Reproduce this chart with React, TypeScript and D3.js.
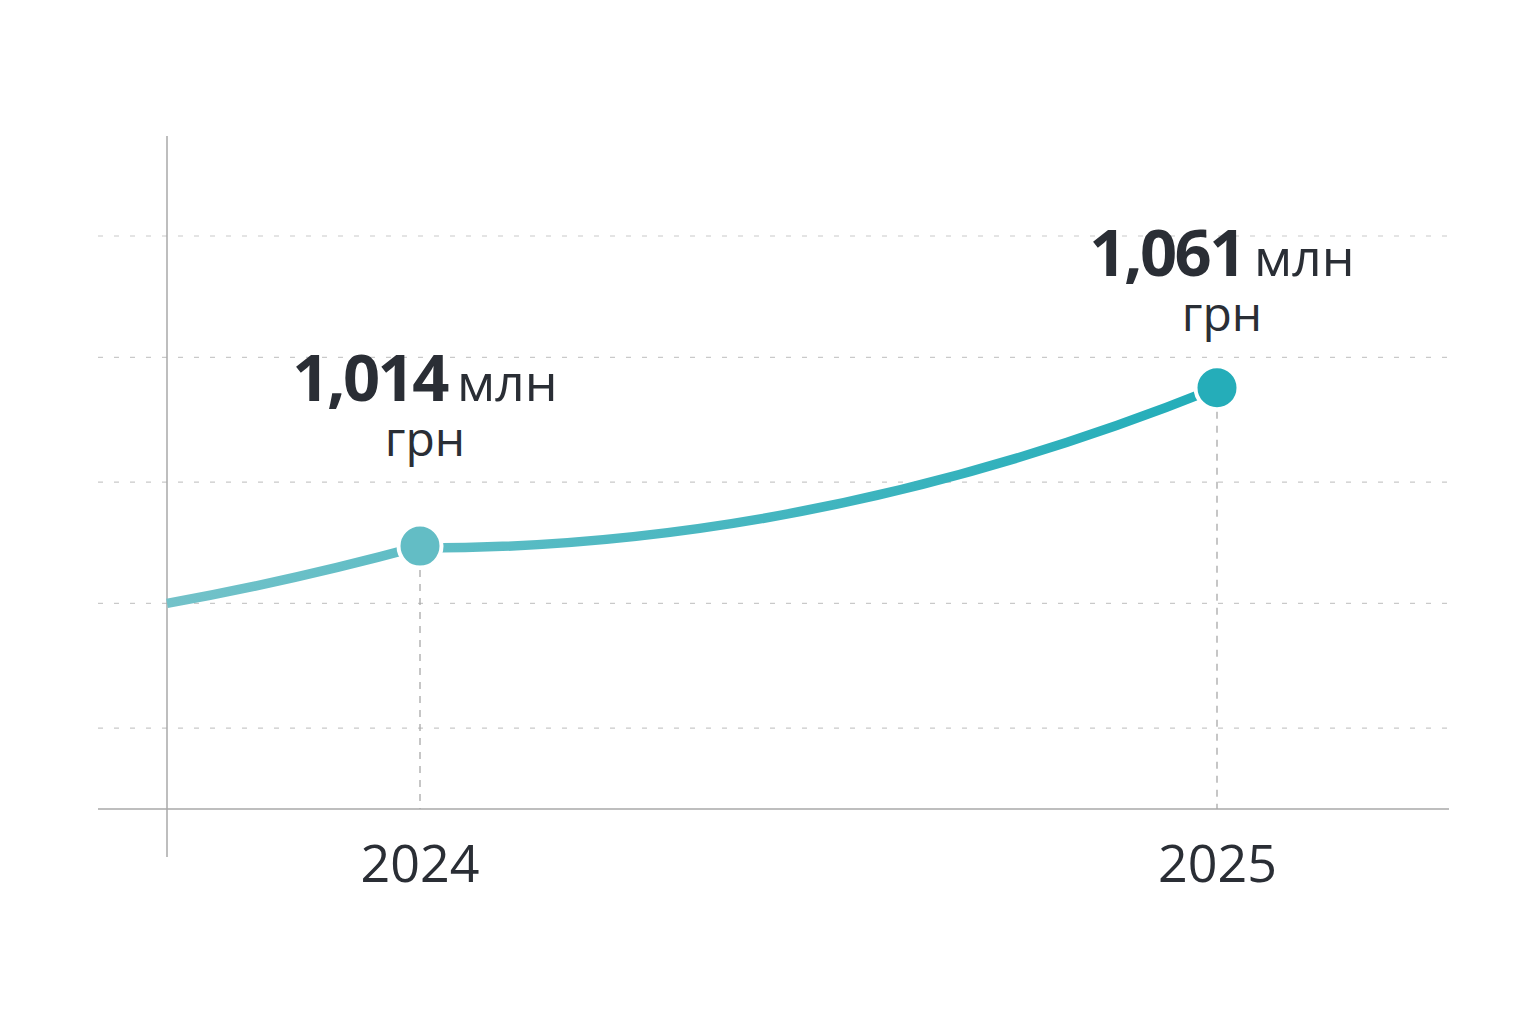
import { useMemo } from "react";
import * as d3 from "d3";

// values
const years = [2024, 2025];
const values = [1014, 1061];
const startValue = 997; // where the line enters at the y axis
const valueLabels = ["1,014", "1,061"];
const unitTop = "млн";
const unitBottom = "грн";
const gridValues = [960, 997, 1033, 1070, 1106];

const W = 1536;
const H = 1024;
const font = "'Open Sans', 'Noto Sans', sans-serif";
const ink = "#2a2e35";

// label lifts above each dot (px)
const labelLift = [145, 112];

export default function App() {
  const x = useMemo(() => d3.scaleLinear().domain([2024, 2025]).range([420, 1217]), []);
  const y = useMemo(() => d3.scaleLinear().domain([936, 1106]).range([809, 236]), []);

  const axisX = 167;
  const gridLeft = 98;
  const gridRight = 1449;
  const baseY = y(936);

  const linePath = useMemo(() => {
    const p = d3.path();
    const x0 = axisX;
    const y0 = y(startValue);
    const x1 = x(years[0]);
    const y1 = y(values[0]);
    const x2 = x(years[1]);
    const y2 = y(values[1]);
    p.moveTo(x0, y0);
    p.quadraticCurveTo((x0 + x1) / 2, y0 - (y0 - y1) * 0.4, x1, y1);
    p.moveTo(x1, y1 + 2);
    p.quadraticCurveTo((x1 + x2) / 2, y1 + 2, x2, y2);
    return p.toString();
  }, [x, y]);

  const dotColors = ["#63bdc5", "#25adb9"];

  return (
    <svg width={W} height={H} style={{ position: "absolute", left: 0, top: 0, background: "#fff" }}>
      <defs>
        <linearGradient id="lg" gradientUnits="userSpaceOnUse" x1={axisX} x2={x(2025)} y1={0} y2={0}>
          <stop offset="0%" stopColor="#73c2c9" />
          <stop offset="100%" stopColor="#22adb9" />
        </linearGradient>
      </defs>

      {gridValues.map((v) => (
        <line key={v} x1={gridLeft} x2={gridRight} y1={y(v)} y2={y(v)}
          stroke="#c9c9c9" strokeWidth={1.2} strokeDasharray="5 11" />
      ))}

      <line x1={gridLeft} x2={gridRight} y1={baseY} y2={baseY} stroke="#a8a8a8" strokeWidth={1.5} />
      <line x1={axisX} x2={axisX} y1={136} y2={857} stroke="#a8a8a8" strokeWidth={1.5} />

      {years.map((yr, i) => (
        <line key={yr} x1={x(yr)} x2={x(yr)} y1={y(values[i]) + 24} y2={baseY}
          stroke="#a8a8a8" strokeWidth={1.3} strokeDasharray="7 7" />
      ))}

      <path d={linePath} fill="none" stroke="url(#lg)" strokeWidth={9.5} strokeLinecap="butt" />

      {years.map((yr, i) => (
        <circle key={yr} cx={x(yr)} cy={y(values[i])} r={21.5} fill={dotColors[i]} stroke="#fff" strokeWidth={4} />
      ))}

      {years.map((yr, i) => {
        const cx = x(yr) + 5;
        const cy = y(values[i]);
        return (
          <g key={yr} fontFamily={font} fill={ink}>
            <text x={cx} y={cy - labelLift[i]} textAnchor="middle">
              <tspan fontWeight={700} fontSize={65} letterSpacing={-2.5}>{valueLabels[i]}</tspan>
              <tspan fontSize={52} dx={10}>{unitTop}</tspan>
            </text>
            <text x={cx} y={cy - labelLift[i] + 55} textAnchor="middle" fontSize={48}>{unitBottom}</text>
            <text x={x(yr) + 0.5 * i} y={882} textAnchor="middle" fontSize={52}>{yr}</text>
          </g>
        );
      })}
    </svg>
  );
}
